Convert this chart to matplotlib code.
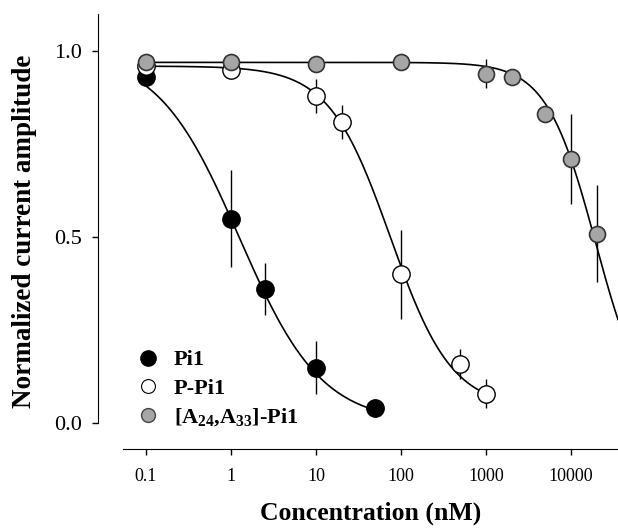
import numpy as np
import matplotlib
matplotlib.use('Agg')
from matplotlib import pyplot as plt

plt.rcParams['font.family'] = 'Liberation Serif'
plt.rcParams['mathtext.fontset'] = 'custom'
plt.rcParams['mathtext.rm'] = 'Liberation Serif:bold'
plt.rcParams['mathtext.it'] = 'Liberation Serif:bold'
plt.rcParams['mathtext.bf'] = 'Liberation Serif:bold'

# data (concentration in nM)
pi1_conc = [0.1, 1, 2.5, 10, 50]
pi1_amp = [0.93, 0.55, 0.36, 0.15, 0.04]
pi1_err = [0.0, 0.13, 0.07, 0.07, 0.0]

ppi1_conc = [0.1, 1, 10, 20, 100, 500, 1000]
ppi1_amp = [0.96, 0.95, 0.88, 0.81, 0.40, 0.16, 0.08]
ppi1_err = [0.0, 0.0, 0.045, 0.045, 0.12, 0.04, 0.04]

ala_conc = [0.1, 1, 10, 100, 1000, 2000, 5000, 10000, 20000]
ala_amp = [0.97, 0.97, 0.965, 0.97, 0.94, 0.93, 0.83, 0.71, 0.51]
ala_err = [0.0, 0.0, 0.0, 0.0, 0.04, 0.0, 0.0, 0.12, 0.13]

# Hill fit parameters (bottom, top, IC50, slope)
pi1_fit = (0.0, 1.0, 1.25, 0.9)
ppi1_fit = (0.04, 0.96, 75.0, 1.2)
ala_fit = (0.0, 0.97, 19500.0, 1.5)

xmin, xmax = 0.0537, 35700


def hill(x, bottom, top, ic50, n):
    return bottom + (top - bottom) / (1 + (x / ic50) ** n)


fig = plt.figure(figsize=(6.18, 5.30), dpi=100)
ax = fig.add_axes([123 / 618, 81 / 530, 495 / 618, 435 / 530])
ax.set_xscale('log')
ax.set_xlim(xmin, xmax)
ax.set_ylim(-0.069, 1.1)

# fitted curves
for fit, x_end in [(pi1_fit, 50), (ppi1_fit, 1000), (ala_fit, xmax)]:
    xs = np.logspace(-1, np.log10(x_end), 300)
    ax.plot(xs, hill(xs, *fit), color='black', lw=1.2, zorder=2)

ax.errorbar(pi1_conc, pi1_amp, yerr=pi1_err, fmt='o', ms=12.5, mfc='black',
            mec='black', ecolor='black', elinewidth=1, capsize=0, zorder=3)
ax.errorbar(ppi1_conc, ppi1_amp, yerr=ppi1_err, fmt='o', ms=12.5, mfc='white',
            mec='black', mew=1, ecolor='black', elinewidth=1, capsize=0, zorder=4)
ax.errorbar(ala_conc, ala_amp, yerr=ala_err, fmt='o', ms=11.5, mfc='#a6a6a6',
            mec='#333333', mew=1.2, ecolor='black', elinewidth=1, capsize=0, zorder=5)

# legend
h1, = ax.plot([], [], 'o', ms=11, mfc='black', mec='black')
h2, = ax.plot([], [], 'o', ms=10, mfc='white', mec='black', mew=0.8)
h3, = ax.plot([], [], 'o', ms=10, mfc='#a6a6a6', mec='#444444')
ax.legend([h1, h2, h3], ['Pi1', 'P-Pi1', r'[A$_{24}$,A$_{33}$]-Pi1'],
          loc='lower left', bbox_to_anchor=(-0.005, 0.012), frameon=False,
          prop={'weight': 'bold', 'size': 16}, handletextpad=0.6,
          labelspacing=0.35, borderaxespad=0.3, handlelength=1.1)

ax.spines['top'].set_visible(False)
ax.spines['right'].set_visible(False)
ax.spines['left'].set_position(('outward', 18))
ax.spines['left'].set_bounds(0, 1.1)

ax.set_yticks([0, 0.5, 1.0])
ax.set_yticklabels(['0.0', '0.5', '1.0'])
ax.set_xticks([0.1, 1, 10, 100, 1000, 10000])
ax.set_xticklabels(['0.1', '1', '10', '100', '1000', '10000'])
ax.minorticks_off()
ax.tick_params(axis='both', length=4.5, width=1, direction='out')
ax.tick_params(axis='x', pad=9, labelsize=13)
ax.tick_params(axis='y', pad=7, labelsize=16)

ax.set_xlabel('Concentration (nM)', fontsize=18.5, fontweight='bold', labelpad=12)
ax.set_ylabel('Normalized current amplitude', fontsize=19.5, fontweight='bold', labelpad=12)

fig.savefig('out.png', dpi=100)
